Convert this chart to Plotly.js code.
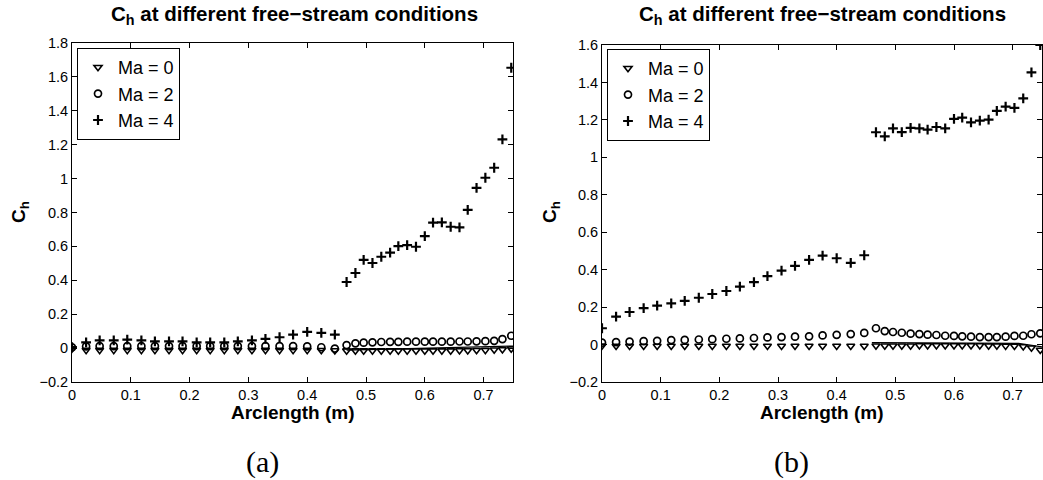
<!DOCTYPE html>
<html>
<head>
<meta charset="utf-8">
<script src="https://cdn.plot.ly/plotly-3.0.1.min.js"></script>
<style>html,body{margin:0;padding:0;background:#fff;}#chart{width:1043px;height:480px;}</style>
</head>
<body>
<div id="chart"></div>
<script>
// Arclength positions (m)
const arcLength = [0, 0.024, 0.047, 0.071, 0.094, 0.118, 0.141, 0.165, 0.188, 0.212,
  0.235, 0.259, 0.282, 0.306, 0.329, 0.353, 0.376, 0.400, 0.424, 0.447,
  0.467, 0.482, 0.496, 0.511, 0.526, 0.541, 0.555, 0.570, 0.585, 0.600,
  0.614, 0.629, 0.644, 0.659, 0.673, 0.688, 0.703, 0.718, 0.732, 0.747];

// Panel (a)
const chA_Ma0 = [-0.004, -0.012, -0.012, -0.012, -0.012, -0.012, -0.012, -0.012, -0.012, -0.012,
  -0.012, -0.012, -0.012, -0.012, -0.012, -0.012, -0.012, -0.012, -0.013, -0.014,
  -0.015, -0.015, -0.015, -0.015, -0.015, -0.015, -0.015, -0.015, -0.015, -0.015,
  -0.015, -0.015, -0.015, -0.014, -0.014, -0.013, -0.012, -0.010, -0.008, -0.004];
const chA_Ma2 = [0.004, 0.010, 0.012, 0.012, 0.012, 0.012, 0.012, 0.012, 0.012, 0.012,
  0.012, 0.012, 0.012, 0.012, 0.012, 0.012, 0.012, 0.010, 0.005, -0.003,
  0.018, 0.028, 0.032, 0.034, 0.036, 0.037, 0.037, 0.038, 0.038, 0.038,
  0.038, 0.038, 0.038, 0.039, 0.039, 0.040, 0.041, 0.043, 0.053, 0.073];
const chA_Ma4 = [0.006, 0.034, 0.046, 0.046, 0.05, 0.046, 0.04, 0.04, 0.04, 0.034,
  0.034, 0.034, 0.04, 0.046, 0.054, 0.064, 0.08, 0.096, 0.09, 0.08,
  0.39, 0.443, 0.52, 0.502, 0.539, 0.563, 0.602, 0.608, 0.598, 0.661,
  0.74, 0.742, 0.716, 0.712, 0.815, 0.945, 1.005, 1.064, 1.232, 1.654];
const lineA_x = [0.467, 0.60, 0.75];
const lineA_y = [-0.012, -0.002, 0.012];

// Panel (b)
const chB_Ma0 = [-0.006, -0.008, -0.008, -0.008, -0.008, -0.008, -0.008, -0.008, -0.008, -0.008,
  -0.008, -0.008, -0.008, -0.008, -0.008, -0.008, -0.008, -0.008, -0.008, -0.008,
  -0.006, -0.006, -0.006, -0.006, -0.006, -0.005, -0.005, -0.005, -0.005, -0.005,
  -0.005, -0.005, -0.005, -0.006, -0.006, -0.007, -0.008, -0.010, -0.017, -0.029];
const chB_Ma2 = [0.010, 0.013, 0.016, 0.018, 0.020, 0.024, 0.025, 0.027, 0.029, 0.031,
  0.033, 0.035, 0.038, 0.040, 0.042, 0.044, 0.049, 0.052, 0.056, 0.062,
  0.087, 0.072, 0.067, 0.063, 0.058, 0.056, 0.053, 0.051, 0.047, 0.046,
  0.044, 0.042, 0.040, 0.040, 0.040, 0.042, 0.046, 0.047, 0.055, 0.060];
const chB_Ma4 = [0.087, 0.149, 0.174, 0.195, 0.208, 0.22, 0.233, 0.25, 0.27, 0.286,
  0.309, 0.333, 0.365, 0.395, 0.42, 0.452, 0.475, 0.461, 0.436, 0.477,
  1.134, 1.112, 1.155, 1.135, 1.157, 1.155, 1.148, 1.162, 1.155, 1.205,
  1.212, 1.187, 1.196, 1.201, 1.248, 1.271, 1.264, 1.315, 1.454, 1.60];
const lineB_x = [0.46, 0.60, 0.71, 0.75];
const lineB_y = [0.010, 0.010, 0.006, -0.012];

const seriesNames = ['Ma = 0', 'Ma = 2', 'Ma = 4'];
const xTicks = [0, 0.1, 0.2, 0.3, 0.4, 0.5, 0.6, 0.7];
const yTicksA = [-0.2, 0, 0.2, 0.4, 0.6, 0.8, 1, 1.2, 1.4, 1.6, 1.8];
const yTicksB = [-0.2, 0, 0.2, 0.4, 0.6, 0.8, 1, 1.2, 1.4, 1.6];
const panelTitle = '<b>C<sub>h</sub> at different free\u2212stream conditions</b>';
const xTitle = '<b>Arclength (m)</b>';
const yTitle = '<b>C<sub>h</sub></b>';

const FONT = 'Liberation Sans, Arial, Helvetica, sans-serif';
const SERIF = 'Liberation Serif, DejaVu Serif, serif';
const markerStyles = [
  {symbol: 'triangle-down-open', size: 7, color: '#000', line: {width: 1.6, color: '#000'}},
  {symbol: 'circle-open', size: 7, color: '#000', line: {width: 1.7, color: '#000'}},
  {symbol: 'cross-thin-open', size: 7, color: '#000', line: {width: 2.2, color: '#000'}}
];

function makeTraces(ys, lx, ly, xa, ya, leg) {
  const tr = ys.map((y, i) => ({
    type: 'scatter', mode: 'markers', x: arcLength, y: y, name: seriesNames[i],
    xaxis: xa, yaxis: ya, legend: leg, marker: markerStyles[i]
  }));
  tr.push({type: 'scatter', mode: 'lines', x: lx, y: ly, xaxis: xa, yaxis: ya,
    showlegend: false, line: {color: '#000', width: 1.3}, hoverinfo: 'skip'});
  return tr;
}

const data = [].concat(
  makeTraces([chA_Ma0, chA_Ma2, chA_Ma4], lineA_x, lineA_y, 'x', 'y', 'legend'),
  makeTraces([chB_Ma0, chB_Ma2, chB_Ma4], lineB_x, lineB_y, 'x2', 'y2', 'legend2')
);

const W = 1043, H = 480;
function axisBase() {
  return {
    showline: true, mirror: 'ticks', linecolor: '#000', linewidth: 1,
    ticks: 'inside', ticklen: 5, tickcolor: '#000', tickwidth: 1,
    showgrid: false, zeroline: false,
    tickfont: {family: FONT, size: 14.5, color: '#000'}
  };
}
function fmt(v) { return v < 0 ? '\u2212' + Math.abs(v) : String(v); }
const xA = Object.assign(axisBase(), {domain: [72 / W, 513 / W], range: [0, 0.75],
  tickvals: xTicks, ticktext: xTicks.map(fmt), anchor: 'y'});
const yA = Object.assign(axisBase(), {domain: [1 - 382 / H, 1 - 43 / H], range: [-0.2, 1.8],
  tickvals: yTicksA, ticktext: yTicksA.map(fmt), anchor: 'x'});
const xB = Object.assign(axisBase(), {domain: [602 / W, 1042 / W], range: [0, 0.75],
  tickvals: xTicks, ticktext: xTicks.map(fmt), anchor: 'y2'});
const yB = Object.assign(axisBase(), {domain: [1 - 382 / H, 1 - 45 / H], range: [-0.2, 1.6],
  tickvals: yTicksB, ticktext: yTicksB.map(fmt), anchor: 'x2'});

function ann(text, xpx, ypx, size, opts) {
  return Object.assign({text: text, x: xpx / W, y: 1 - ypx / H, xref: 'paper', yref: 'paper',
    xanchor: 'center', yanchor: 'middle', showarrow: false,
    font: {family: FONT, size: size, color: '#000'}}, opts || {});
}

const annotations = [
  ann(panelTitle, 294, 15, 20.5),
  ann(panelTitle, 822, 15, 20.5),
  ann(xTitle, 293, 412, 19),
  ann(xTitle, 822, 412, 19),
  ann(yTitle, 20, 212, 19, {textangle: -90}),
  ann(yTitle, 551, 212, 19, {textangle: -90}),
  ann('(a)', 262, 462, 30, {font: {family: SERIF, size: 30, color: '#000'}}),
  ann('(b)', 791, 462, 30, {font: {family: SERIF, size: 30, color: '#000'}})
];

function legendCfg(xpx, ypx) {
  return {x: xpx / W, y: 1 - ypx / H, xanchor: 'left', yanchor: 'top',
    bordercolor: '#000', borderwidth: 1, bgcolor: '#fff',
    font: {family: FONT, size: 18, color: '#000'}, tracegroupgap: 0, itemsizing: 'trace'};
}

const layout = {
  width: W, height: H, margin: {l: 0, r: 0, t: 0, b: 0},
  paper_bgcolor: '#fff', plot_bgcolor: '#fff',
  xaxis: xA, yaxis: yA, xaxis2: xB, yaxis2: yB,
  showlegend: true,
  legend: legendCfg(77, 48),
  legend2: legendCfg(607, 49),
  annotations: annotations
};

Plotly.newPlot('chart', data, layout, {staticPlot: true, displayModeBar: false});
</script>
</body>
</html>
